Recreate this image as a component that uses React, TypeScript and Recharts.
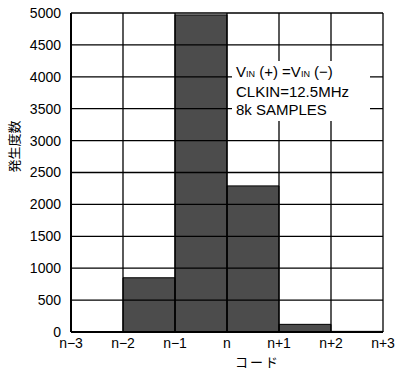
import React from 'react';
import { BarChart, Bar, XAxis, YAxis, CartesianGrid } from 'recharts';

// bin centres between codes n-3 .. n+3
const binCenters = [0.5, 1.5, 2.5, 3.5, 4.5, 5.5];
const counts = [0, 850, 4970, 2290, 120, 10];
const codeTicks = [0, 1, 2, 3, 4, 5, 6];
const codeLabels = ['n−3', 'n−2', 'n−1', 'n', 'n+1', 'n+2', 'n+3'];
const countTicks = [0, 500, 1000, 1500, 2000, 2500, 3000, 3500, 4000, 4500, 5000];

const data = binCenters.map((x, i) => ({ x, count: counts[i] }));

const font = '"Liberation Sans", Arial, sans-serif';
const jpFont = '"Noto Sans CJK JP", sans-serif';

export default function App() {
    return (
        <div style={{ position: 'absolute', left: 0, top: 0, width: 401, height: 373, background: '#fff', fontFamily: font }}>
            <BarChart
                width={401}
                height={373}
                data={data}
                margin={{ top: 13, right: 18, bottom: 23, left: 0 }}
                barCategoryGap={0}
            >
                <CartesianGrid stroke="#000" strokeWidth={1.3} />
                <XAxis
                    type="number"
                    dataKey="x"
                    domain={[0, 6]}
                    ticks={codeTicks}
                    tickFormatter={(v) => codeLabels[v]}
                    axisLine={{ stroke: '#000', strokeWidth: 2 }}
                    tickLine={false}
                    tick={{ fill: '#000', fontSize: 14, fontFamily: font }}
                    tickMargin={0}
                    height={18}
                />
                <YAxis
                    domain={[0, 5000]}
                    ticks={countTicks}
                    interval={0}
                    axisLine={{ stroke: '#000', strokeWidth: 2 }}
                    tickLine={false}
                    tick={{ fill: '#000', fontSize: 14, fontFamily: font }}
                    tickMargin={4}
                    width={71}
                    label={{ value: '発生度数', angle: -90, position: 'insideLeft', offset: 14, fill: '#000', fontSize: 13, fontFamily: jpFont }}
                />
                <Bar
                    dataKey="count"
                    fill="#000"
                    fillOpacity={0.7}
                    stroke="#000"
                    strokeWidth={1}
                    isAnimationActive={false}
                />
            </BarChart>
            <div style={{ position: 'absolute', left: 235, top: 355, fontSize: 13, fontFamily: jpFont, color: '#000', lineHeight: '14px', letterSpacing: 2 }}>
                コード
            </div>
            <div
                style={{
                    position: 'absolute',
                    left: 232,
                    top: 61,
                    width: 130,
                    padding: '2px 4px',
                    background: '#fff',
                    fontSize: 15,
                    lineHeight: '18px',
                    color: '#000',
                    whiteSpace: 'nowrap',
                }}
            >
                <div>
                    V<span style={{ fontSize: 9 }}>IN</span> (+) =V<span style={{ fontSize: 9 }}>IN</span> (−)
                </div>
                <div>CLKIN=12.5MHz</div>
                <div>8k SAMPLES</div>
            </div>
        </div>
    );
}
